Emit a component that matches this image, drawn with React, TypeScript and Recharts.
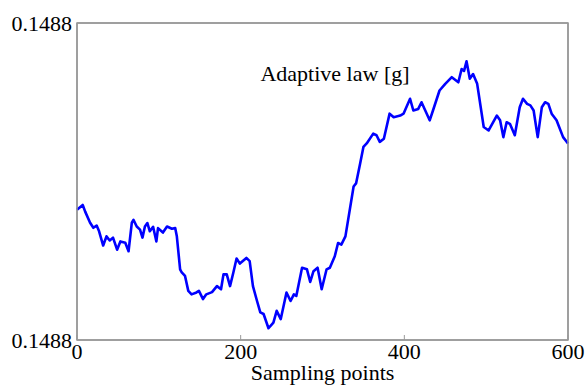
import React from "react";
import { LineChart, Line, XAxis, YAxis, Label, ReferenceArea } from "recharts";

// Sampling points (x) and normalised adaptive-law values (0 = bottom tick, 100 = top tick)
const samplePoints = [
  0, 7, 10, 16, 20, 24, 27, 32, 36, 40, 44, 49, 53, 59, 63, 67, 69, 73, 77, 80,
  83, 86, 89, 93, 97, 99, 105, 110, 116, 120, 122, 126, 128, 132, 136, 140, 146, 149, 154, 158,
  165, 171, 176, 179, 183, 187, 191, 195, 199, 207, 211, 215, 220, 224, 228, 234, 240, 244, 249, 256,
  261, 265, 268, 275, 281, 285, 289, 294, 299, 305, 309, 315, 319, 323, 328, 338, 341, 346, 350, 354,
  362, 366, 370, 375, 382, 387, 395, 399, 407, 411, 417, 421, 431, 435, 443, 450, 458, 466, 470, 473,
  476, 480, 484, 489, 497, 503, 513, 517, 521, 525, 529, 535, 541, 545, 550, 554, 558, 563, 568, 572,
  576, 580, 586, 594, 600,
];
const adaptiveLaw = [
  41.1, 42.6, 40.5, 37.0, 35.4, 36.1, 34.3, 29.8, 32.7, 31.4, 32.3, 28.5, 31.1, 30.7, 28.0, 37.0, 37.9, 35.8, 34.8, 32.3,
  35.8, 36.9, 34.3, 35.7, 31.1, 35.3, 33.9, 35.8, 35.1, 35.3, 32.7, 22.3, 21.3, 20.2, 15.5, 14.4, 15.0, 15.5, 12.9, 14.4,
  15.1, 17.0, 16.0, 20.7, 20.7, 17.0, 21.2, 25.7, 24.1, 25.9, 24.9, 17.0, 12.3, 8.7, 8.2, 3.7, 5.5, 9.2, 6.6, 15.0,
  12.3, 14.4, 13.9, 22.8, 22.3, 18.3, 21.7, 22.8, 16.0, 22.3, 22.8, 26.4, 30.6, 30.1, 32.7, 48.4, 49.4, 55.7, 60.9, 62.0,
  65.1, 64.6, 62.5, 63.5, 71.4, 70.3, 70.8, 71.4, 76.1, 72.4, 72.9, 75.0, 69.3, 72.4, 78.7, 80.8, 82.9, 81.3, 85.5, 84.9,
  87.9, 82.4, 83.9, 80.8, 67.2, 66.1, 70.8, 69.3, 64.0, 68.7, 68.2, 64.6, 73.4, 76.1, 74.5, 74.0, 72.4, 64.0, 73.4, 75.0,
  74.5, 71.4, 69.3, 64.0, 62.0,
];

const xTicks = [0, 200, 400, 600];
const yTicks = [0, 100];
const yTickLabels = ["0.1488", "0.1488"];

const data = samplePoints.map((x, i) => ({ x, v: adaptiveLaw[i] }));

const FONT = "'Liberation Serif', 'Times New Roman', serif";
const GRAY = "#999999";

export default function App() {
  return (
    <div style={{ position: "absolute", left: 0, top: 0, background: "#fff" }}>
      <LineChart
        width={587}
        height={387}
        data={data}
        margin={{ top: 22, right: 18, left: 0, bottom: 0 }}
      >
        <XAxis
          xAxisId="bottom"
          dataKey="x"
          type="number"
          domain={[0, 600]}
          ticks={xTicks}
          height={47}
          axisLine={{ stroke: GRAY, strokeWidth: 1.5 }}
          tickLine={{ stroke: GRAY }}
          tickSize={-5}
          tickMargin={8}
          tick={{ fill: "#000", fontSize: 22, fontFamily: FONT }}
          interval={0}
        >
          <Label
            value="Sampling points"
            position="insideBottom"
            offset={7}
            style={{ fill: "#000", fontSize: 22, fontFamily: FONT }}
          />
        </XAxis>
        <XAxis
          xAxisId="top"
          dataKey="x"
          type="number"
          orientation="top"
          domain={[0, 600]}
          ticks={xTicks}
          height={1}
          axisLine={{ stroke: GRAY, strokeWidth: 1.5 }}
          tickLine={{ stroke: GRAY }}
          tickSize={-5}
          tick={false}
          interval={0}
        />
        <YAxis
          yAxisId="left"
          type="number"
          domain={[0, 100]}
          ticks={yTicks}
          width={77}
          axisLine={{ stroke: GRAY, strokeWidth: 1.5 }}
          tickLine={false}
          tickSize={0}
          tickMargin={5}
          tickFormatter={(_v: number, i: number) => yTickLabels[i]}
          tick={{ fill: "#000", fontSize: 22, fontFamily: FONT }}
          interval={0}
        />
        <YAxis
          yAxisId="right"
          orientation="right"
          type="number"
          domain={[0, 100]}
          ticks={yTicks}
          width={1}
          axisLine={{ stroke: GRAY, strokeWidth: 1.5 }}
          tickLine={false}
          tick={false}
        />
        <ReferenceArea
          xAxisId="bottom"
          yAxisId="left"
          x1={0}
          x2={600}
          y1={0}
          y2={100}
          fill="none"
          stroke={GRAY}
          strokeWidth={1.5}
          ifOverflow="visible"
        />
        <Line
          xAxisId="bottom"
          yAxisId="left"
          type="linear"
          dataKey="v"
          stroke="#0000ff"
          strokeWidth={2.6}
          strokeLinejoin="round"
          dot={false}
          isAnimationActive={false}
        />
        <text
          x={335}
          y={81}
          textAnchor="middle"
          style={{ fill: "#000", fontSize: 22, fontFamily: FONT }}
        >
          Adaptive law [g]
        </text>
      </LineChart>
    </div>
  );
}
